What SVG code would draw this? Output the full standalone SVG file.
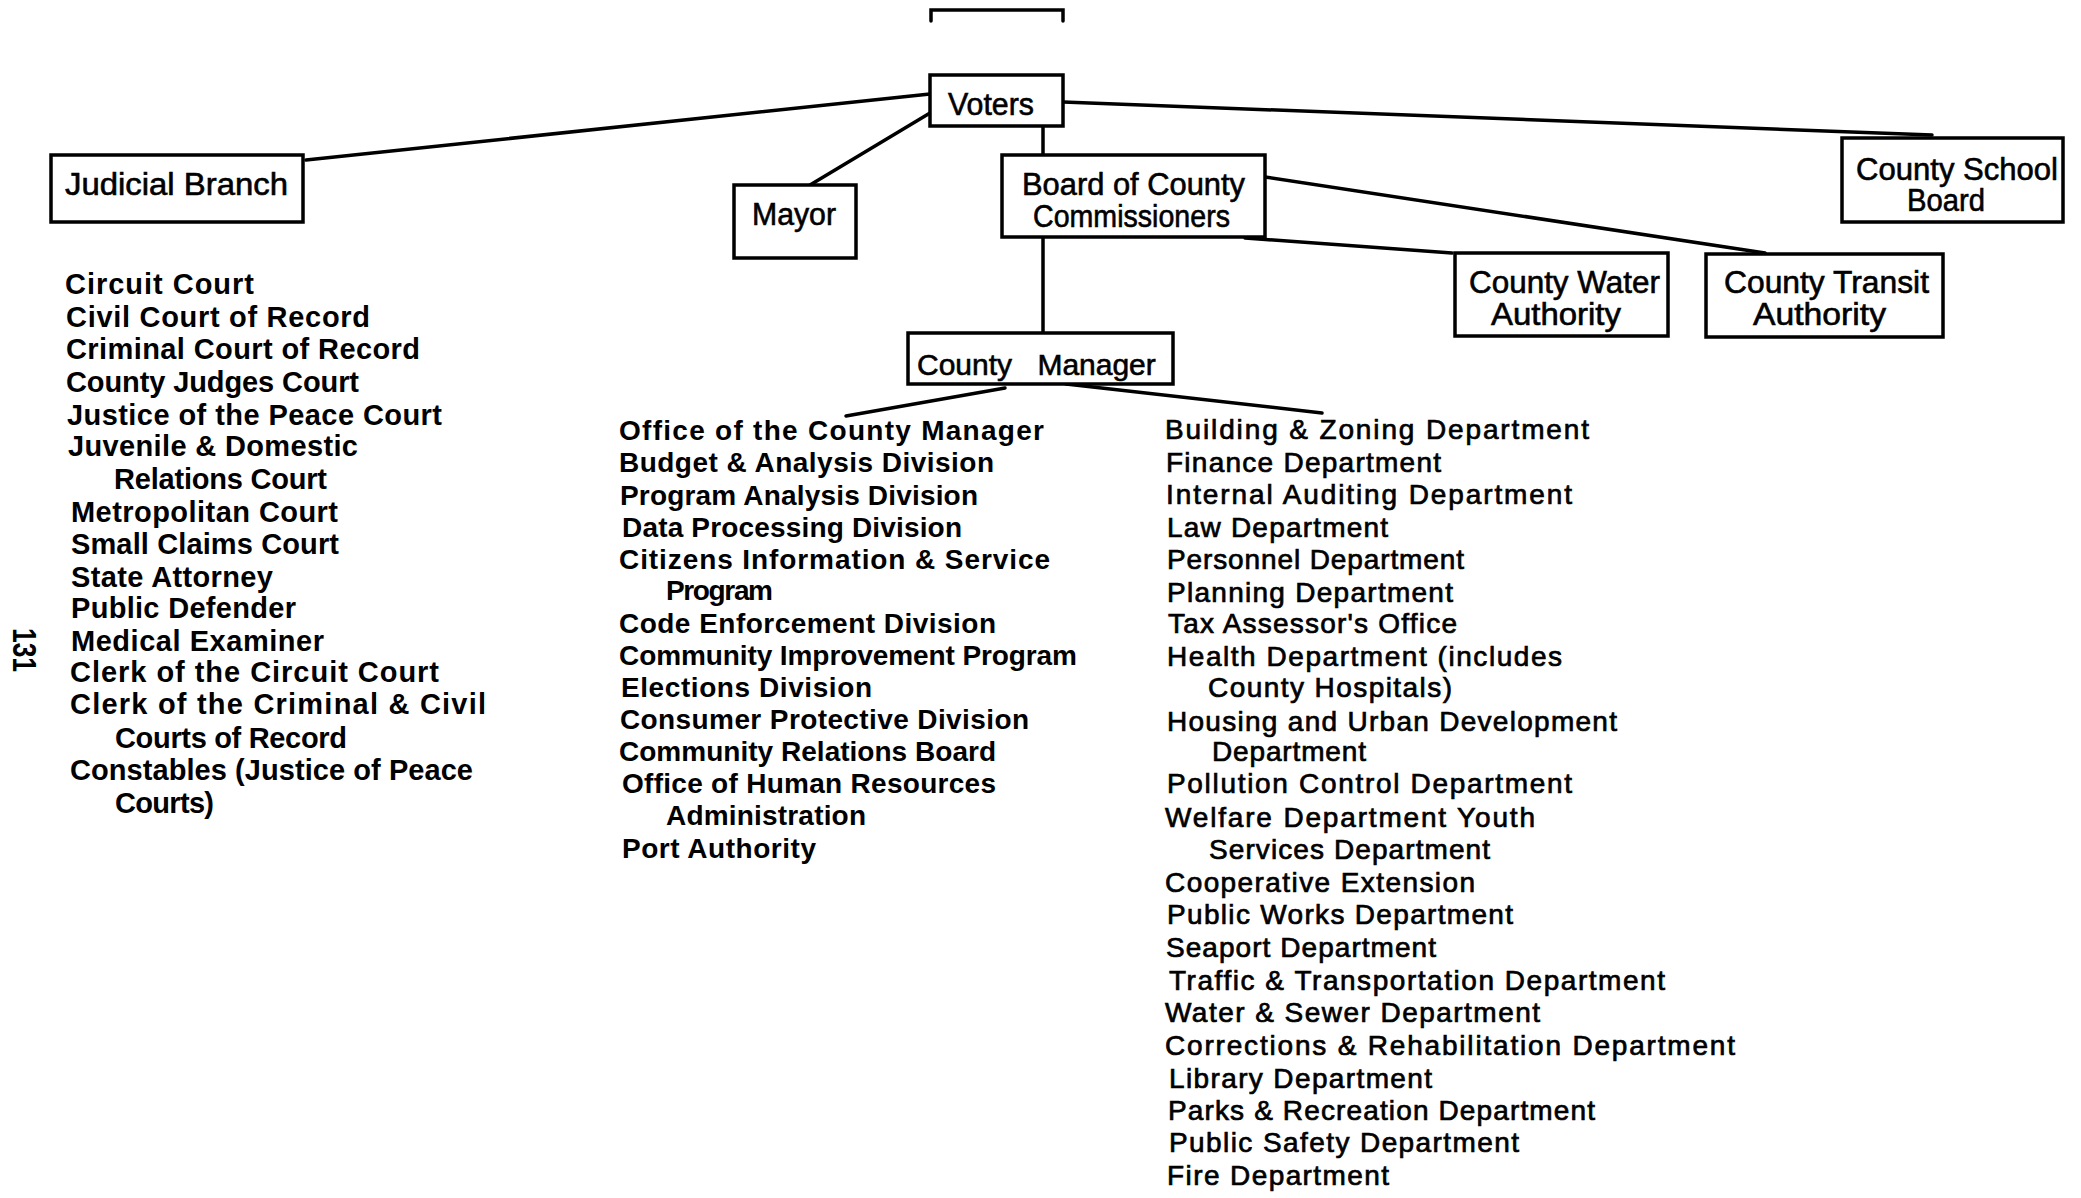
<svg xmlns="http://www.w3.org/2000/svg" width="2081" height="1198" viewBox="0 0 2081 1198">
  <style>
    .bg { fill: #ffffff; }
    .box { fill: #ffffff; stroke: #000000; stroke-width: 3.5; }
    .wire { fill: none; stroke: #000000; stroke-width: 3.5; stroke-linecap: round; }
    .label { font-family: "Liberation Sans", Arial, sans-serif; font-size: 31px; fill: #000000; stroke: #000000; stroke-width: 0.6; }
    .court { font-family: "Liberation Sans", Arial, sans-serif; font-size: 29px; font-weight: bold; fill: #000000; }
    .office { font-family: "Liberation Sans", Arial, sans-serif; font-size: 28px; font-weight: bold; fill: #000000; }
    .dept { font-family: "Liberation Sans", Arial, sans-serif; font-size: 28px; fill: #000000; stroke: #000000; stroke-width: 0.7; }
    .folio { font-family: "Liberation Sans", Arial, sans-serif; font-size: 34px; font-weight: bold; fill: #000000; }
  </style>

  <rect class="bg" x="0" y="0" width="2081" height="1198"/>

  <!-- bracket at the head of the page -->
  <path class="wire" d="M931,21 V10 H1063 V21"/>

  <!-- connectors -->
  <g id="connectors">
    <line class="wire" x1="930" y1="94" x2="306" y2="160"/>
    <line class="wire" x1="930" y1="113" x2="810" y2="185"/>
    <line class="wire" x1="1043" y1="126" x2="1043" y2="155"/>
    <line class="wire" x1="1063" y1="102" x2="1932" y2="135"/>
    <line class="wire" x1="1043" y1="237" x2="1043" y2="333"/>
    <line class="wire" x1="1265" y1="177" x2="1765" y2="253"/>
    <line class="wire" x1="1245" y1="238" x2="1452" y2="253"/>
    <line class="wire" x1="1005" y1="388" x2="846" y2="416"/>
    <line class="wire" x1="1066" y1="384" x2="1322" y2="413"/>
  </g>

  <!-- top level -->
  <g id="voters">
    <rect class="box" x="930" y="75" width="133" height="51"/>
    <text class="label" x="948" y="115" textLength="86" lengthAdjust="spacingAndGlyphs">Voters</text>
  </g>

  <g id="judicial-branch">
    <rect class="box" x="51" y="155" width="252" height="67"/>
    <text class="label" x="65" y="195" textLength="223" lengthAdjust="spacingAndGlyphs">Judicial Branch</text>
  </g>

  <g id="mayor">
    <rect class="box" x="734" y="185" width="122" height="73"/>
    <text class="label" x="752" y="225" textLength="84" lengthAdjust="spacingAndGlyphs">Mayor</text>
  </g>

  <g id="board-of-county-commissioners">
    <rect class="box" x="1002" y="155" width="263" height="82"/>
    <text class="label" x="1022" y="195" textLength="223" lengthAdjust="spacingAndGlyphs">Board of County</text>
    <text class="label" x="1033" y="227" textLength="197" lengthAdjust="spacingAndGlyphs">Commissioners</text>
  </g>

  <g id="county-school-board">
    <rect class="box" x="1842" y="138" width="221" height="84"/>
    <text class="label" x="1856" y="180" textLength="202" lengthAdjust="spacingAndGlyphs">County School</text>
    <text class="label" x="1907" y="211" textLength="78" lengthAdjust="spacingAndGlyphs">Board</text>
  </g>

  <g id="county-water-authority">
    <rect class="box" x="1455" y="253" width="213" height="83"/>
    <text class="label" x="1469" y="293" textLength="191" lengthAdjust="spacingAndGlyphs">County Water</text>
    <text class="label" x="1491" y="325" textLength="130" lengthAdjust="spacingAndGlyphs">Authority</text>
  </g>

  <g id="county-transit-authority">
    <rect class="box" x="1706" y="254" width="237" height="83"/>
    <text class="label" x="1724" y="293" textLength="205" lengthAdjust="spacingAndGlyphs">County Transit</text>
    <text class="label" x="1753" y="325" textLength="133" lengthAdjust="spacingAndGlyphs">Authority</text>
  </g>

  <g id="county-manager">
    <rect class="box" x="908" y="333" width="265" height="51"/>
    <text class="label" x="917" y="375" style="font-size:30px; word-spacing:17px">County Manager</text>
  </g>

  <!-- courts under the judicial branch -->
  <g id="courts">
    <text class="court" x="65" y="294" textLength="189" lengthAdjust="spacing">Circuit Court</text>
    <text class="court" x="66" y="327" textLength="304" lengthAdjust="spacing">Civil Court of Record</text>
    <text class="court" x="66" y="359" textLength="354" lengthAdjust="spacing">Criminal Court of Record</text>
    <text class="court" x="66" y="392" textLength="293" lengthAdjust="spacing">County Judges Court</text>
    <text class="court" x="67" y="425" textLength="375" lengthAdjust="spacing">Justice of the Peace Court</text>
    <text class="court" x="68" y="456" textLength="290" lengthAdjust="spacing">Juvenile &amp; Domestic</text>
    <text class="court" x="114" y="489" textLength="213" lengthAdjust="spacing">Relations Court</text>
    <text class="court" x="71" y="522" textLength="267" lengthAdjust="spacing">Metropolitan Court</text>
    <text class="court" x="71" y="554" textLength="268" lengthAdjust="spacing">Small Claims Court</text>
    <text class="court" x="71" y="587" textLength="202" lengthAdjust="spacing">State Attorney</text>
    <text class="court" x="71" y="618" textLength="225" lengthAdjust="spacing">Public Defender</text>
    <text class="court" x="71" y="651" textLength="253" lengthAdjust="spacing">Medical Examiner</text>
    <text class="court" x="70" y="682" textLength="369" lengthAdjust="spacing">Clerk of the Circuit Court</text>
    <text class="court" x="70" y="714" textLength="416" lengthAdjust="spacing">Clerk of the Criminal &amp; Civil</text>
    <text class="court" x="115" y="748" textLength="232" lengthAdjust="spacing">Courts of Record</text>
    <text class="court" x="70" y="780" textLength="403" lengthAdjust="spacing">Constables (Justice of Peace</text>
    <text class="court" x="115" y="813" textLength="99" lengthAdjust="spacing">Courts)</text>
  </g>

  <!-- offices under the county manager, first column -->
  <g id="manager-offices">
    <text class="office" x="619" y="440" textLength="425" lengthAdjust="spacing">Office of the County Manager</text>
    <text class="office" x="619" y="472" textLength="375" lengthAdjust="spacing">Budget &amp; Analysis Division</text>
    <text class="office" x="620" y="505" textLength="358" lengthAdjust="spacing">Program Analysis Division</text>
    <text class="office" x="622" y="537" textLength="340" lengthAdjust="spacing">Data Processing Division</text>
    <text class="office" x="619" y="569" textLength="431" lengthAdjust="spacing">Citizens Information &amp; Service</text>
    <text class="office" x="666" y="600" textLength="107" lengthAdjust="spacing">Program</text>
    <text class="office" x="619" y="633" textLength="377" lengthAdjust="spacing">Code Enforcement Division</text>
    <text class="office" x="619" y="665" textLength="458" lengthAdjust="spacing">Community Improvement Program</text>
    <text class="office" x="621" y="697" textLength="251" lengthAdjust="spacing">Elections Division</text>
    <text class="office" x="620" y="729" textLength="409" lengthAdjust="spacing">Consumer Protective Division</text>
    <text class="office" x="619" y="761" textLength="377" lengthAdjust="spacing">Community Relations Board</text>
    <text class="office" x="622" y="793" textLength="374" lengthAdjust="spacing">Office of Human Resources</text>
    <text class="office" x="666" y="825" textLength="200" lengthAdjust="spacing">Administration</text>
    <text class="office" x="622" y="858" textLength="194" lengthAdjust="spacing">Port Authority</text>
  </g>

  <!-- departments under the county manager, second column -->
  <g id="manager-departments">
    <text class="dept" x="1165" y="439" textLength="424" lengthAdjust="spacing">Building &amp; Zoning Department</text>
    <text class="dept" x="1166" y="472" textLength="275" lengthAdjust="spacing">Finance Department</text>
    <text class="dept" x="1166" y="504" textLength="406" lengthAdjust="spacing">Internal Auditing Department</text>
    <text class="dept" x="1167" y="537" textLength="221" lengthAdjust="spacing">Law Department</text>
    <text class="dept" x="1167" y="569" textLength="297" lengthAdjust="spacing">Personnel Department</text>
    <text class="dept" x="1167" y="602" textLength="286" lengthAdjust="spacing">Planning Department</text>
    <text class="dept" x="1168" y="633" textLength="289" lengthAdjust="spacing">Tax Assessor's Office</text>
    <text class="dept" x="1167" y="666" textLength="395" lengthAdjust="spacing">Health Department (includes</text>
    <text class="dept" x="1208" y="697" textLength="244" lengthAdjust="spacing">County Hospitals)</text>
    <text class="dept" x="1167" y="731" textLength="450" lengthAdjust="spacing">Housing and Urban Development</text>
    <text class="dept" x="1212" y="761" textLength="154" lengthAdjust="spacing">Department</text>
    <text class="dept" x="1167" y="793" textLength="405" lengthAdjust="spacing">Pollution Control Department</text>
    <text class="dept" x="1165" y="827" textLength="370" lengthAdjust="spacing">Welfare Department Youth</text>
    <text class="dept" x="1209" y="859" textLength="281" lengthAdjust="spacing">Services Department</text>
    <text class="dept" x="1165" y="892" textLength="310" lengthAdjust="spacing">Cooperative Extension</text>
    <text class="dept" x="1167" y="924" textLength="346" lengthAdjust="spacing">Public Works Department</text>
    <text class="dept" x="1166" y="957" textLength="270" lengthAdjust="spacing">Seaport Department</text>
    <text class="dept" x="1169" y="990" textLength="496" lengthAdjust="spacing">Traffic &amp; Transportation Department</text>
    <text class="dept" x="1165" y="1022" textLength="375" lengthAdjust="spacing">Water &amp; Sewer Department</text>
    <text class="dept" x="1165" y="1055" textLength="570" lengthAdjust="spacing">Corrections &amp; Rehabilitation Department</text>
    <text class="dept" x="1169" y="1088" textLength="263" lengthAdjust="spacing">Library Department</text>
    <text class="dept" x="1168" y="1120" textLength="427" lengthAdjust="spacing">Parks &amp; Recreation Department</text>
    <text class="dept" x="1169" y="1152" textLength="350" lengthAdjust="spacing">Public Safety Department</text>
    <text class="dept" x="1167" y="1185" textLength="222" lengthAdjust="spacing">Fire Department</text>
  </g>

  <!-- page number, set sideways in the margin -->
  <text class="folio" transform="rotate(90)" x="628" y="-13" textLength="44" lengthAdjust="spacingAndGlyphs">131</text>
</svg>
